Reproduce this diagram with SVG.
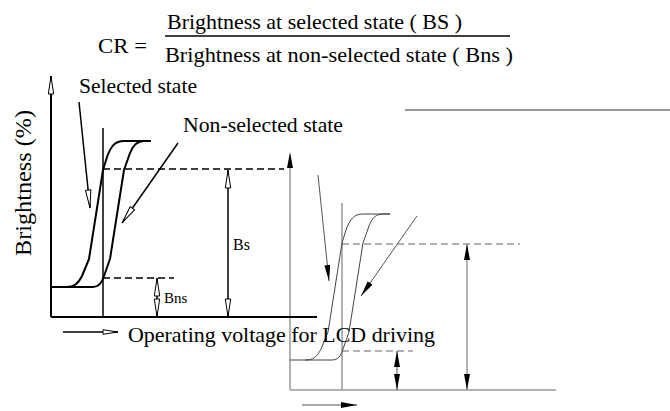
<svg xmlns="http://www.w3.org/2000/svg" width="670" height="411" viewBox="0 0 670 411">
<style>
.f{font-family:'Liberation Serif','Times New Roman',Times,Tinos,'Nimbus Roman','Nimbus Roman No9 L',FreeSerif,'Noto Serif','DejaVu Serif',serif}
.t22{font-size:22px}
.ax{stroke:#000;stroke-width:2;fill:none}
.thin{stroke:#000;stroke-width:1.5;fill:none}
.cv{stroke:#000;stroke-width:2;fill:none;stroke-linejoin:round}
.ds{stroke:#000;stroke-width:1.6;stroke-dasharray:7 4;fill:none}
.r-ax{stroke:#999;stroke-width:1.5;fill:none}
.r-ln{stroke:#555;stroke-width:1;fill:none}
.r-cv{stroke:#444;stroke-width:1;fill:none}
.r-ds{stroke:#666;stroke-width:1.2;stroke-dasharray:7 4;fill:none}
</style>
<defs>
<marker id="oa" viewBox="0 0 18 6" markerWidth="18" markerHeight="6" refX="18" refY="3" markerUnits="userSpaceOnUse" orient="auto-start-reverse" overflow="visible">
<path d="M0,0.3 L17.6,3 L0,5.7 Z" fill="#fff" stroke="#000" stroke-width="1"/>
</marker>
<marker id="oaS" viewBox="0 0 15 5" markerWidth="15" markerHeight="5" refX="15" refY="2.5" markerUnits="userSpaceOnUse" orient="auto-start-reverse" overflow="visible">
<path d="M0,0.2 L14.6,2.5 L0,4.8 Z" fill="#fff" stroke="#000" stroke-width="1"/>
</marker>
<marker id="fa" viewBox="0 0 16 6" markerWidth="16" markerHeight="6" refX="16" refY="3" markerUnits="userSpaceOnUse" orient="auto-start-reverse">
<path d="M0,0 L16,3 L0,6 Z" fill="#000"/>
</marker>
</defs>

<g id="formula" class="f">
<text class="t22" x="98" y="53" textLength="49" lengthAdjust="spacingAndGlyphs">CR =</text>
<text class="t22" x="167" y="29" textLength="295" lengthAdjust="spacingAndGlyphs">Brightness at selected state ( BS )</text>
<line x1="165" y1="36" x2="510" y2="36" stroke="#000" stroke-width="1.5"/>
<text class="t22" x="165" y="62" textLength="348" lengthAdjust="spacingAndGlyphs">Brightness at non-selected state  ( Bns )</text>
</g>

<line id="stray-line" x1="405" y1="110" x2="670" y2="110" stroke="#777" stroke-width="1.5"/>

<g id="chart-right" transform="translate(239,73)">
<line class="r-ax" x1="51" y1="317" x2="51" y2="95"/>
<path d="M51,79 L54,95 L48,95 Z" fill="#000"/>
<line class="r-ax" x1="51" y1="317" x2="317" y2="317"/>
<line class="r-ax" x1="103" y1="130" x2="103" y2="317"/>
<path class="r-cv" d="M51,287 L66,287 C74,287 78,284 82,276 L89,259 L103,170 L107,157 C111,146 115,141 124,141 L151,141"/>
<path class="r-cv" d="M66,287 L93,287 C99,287 102,283 104,276 L110,259 L124,170 L130,153 C133,145 137,141 144,141 L151,141"/>
<line class="r-ds" x1="103" y1="171" x2="281" y2="171"/>
<line class="r-ds" x1="103" y1="278" x2="174" y2="278"/>
<line class="r-ax" x1="228" y1="171" x2="228" y2="317" marker-start="url(#fa)" marker-end="url(#fa)"/>
<line class="r-ln" x1="158" y1="278" x2="158" y2="317" stroke="#000" marker-start="url(#fa)" marker-end="url(#fa)"/>
<line class="r-ln" x1="79" y1="102" x2="90" y2="208" marker-end="url(#fa)"/>
<line class="r-ln" x1="178" y1="143" x2="122" y2="223" marker-end="url(#fa)"/>
<line class="r-ln" x1="63" y1="332" x2="118" y2="332" stroke="#000" marker-end="url(#fa)"/>
</g>

<g id="chart-left" class="f">
<line class="ax" x1="51" y1="317" x2="51" y2="76" marker-end="url(#oa)"/>
<line class="ax" x1="51" y1="317" x2="317" y2="317"/>
<line class="thin" x1="103" y1="128" x2="103" y2="317"/>
<path class="cv" d="M51,287 L66,287 C74,287 78,284 82,276 L89,259 L103,170 L107,157 C111,146 115,141 124,141 L151,141"/>
<path class="cv" d="M66,287 L93,287 C99,287 102,283 104,276 L110,259 L124,170 L130,153 C133,145 137,141 144,141 L151,141"/>
<line class="ds" x1="103" y1="169" x2="284" y2="169"/>
<line class="ds" x1="103" y1="278" x2="174" y2="278"/>
<line class="thin" x1="228" y1="170" x2="228" y2="317" marker-start="url(#oa)" marker-end="url(#oa)"/>
<line class="thin" x1="157" y1="278" x2="157" y2="317" marker-start="url(#oa)" marker-end="url(#oa)"/>
<line class="thin" x1="79" y1="102" x2="90" y2="208" marker-end="url(#oa)"/>
<line class="thin" x1="178" y1="143" x2="122" y2="223" marker-end="url(#oa)"/>
<line class="thin" x1="63" y1="332" x2="118" y2="332" stroke-width="1.2" marker-end="url(#oaS)"/>
<text class="t22" x="79" y="93" textLength="118" lengthAdjust="spacingAndGlyphs">Selected state</text>
<text class="t22" x="183" y="132" textLength="160" lengthAdjust="spacingAndGlyphs">Non-selected state</text>
<text font-size="23" transform="translate(31,183) rotate(-90)" text-anchor="middle" textLength="146" lengthAdjust="spacingAndGlyphs">Brightness (%)</text>
<text font-size="16" x="233" y="250">Bs</text>
<text font-size="15" x="164" y="303">Bns</text>
<text class="t22" x="128" y="342" textLength="307" lengthAdjust="spacingAndGlyphs">Operating voltage for LCD driving</text>
</g>
</svg>
